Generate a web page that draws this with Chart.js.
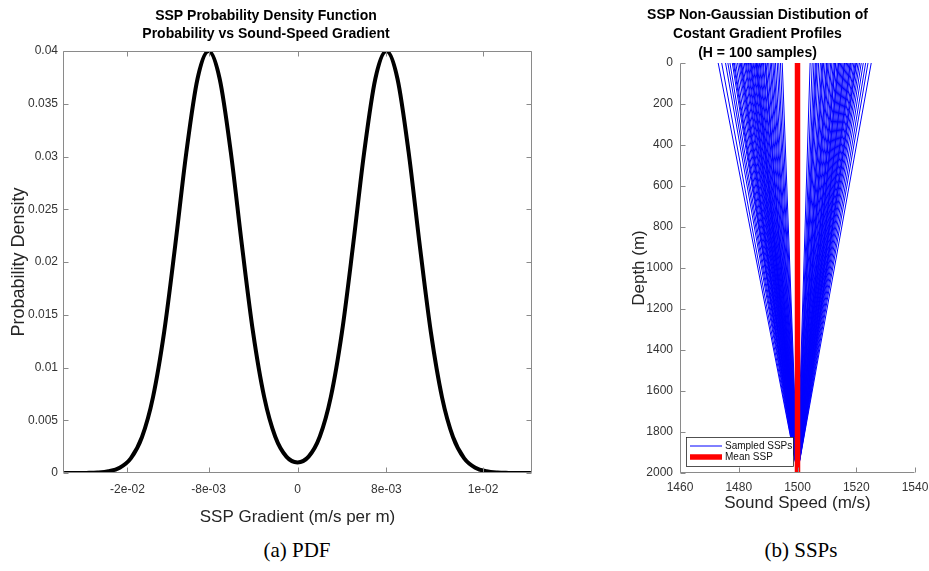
<!DOCTYPE html>
<html>
<head>
<meta charset="utf-8">
<title>SSP PDF and sampled profiles</title>
<script src="https://cdn.jsdelivr.net/npm/chart.js@4.4.0/dist/chart.umd.min.js"></script>
<style>
  html, body { margin: 0; padding: 0; background: #fff; }
  #page { position: relative; width: 929px; height: 571px; overflow: hidden; background: #fff; }
  #pdfWrap { position: absolute; left: 0; top: 0; width: 560px; height: 530px; }
  #sspWrap { position: absolute; left: 600px; top: 0; width: 329px; height: 530px; }
  .caption {
    position: absolute; top: 538px; transform: translateX(-50%);
    font-family: "Liberation Serif", "DejaVu Serif", serif; font-size: 21px; color: #000; white-space: nowrap;
  }
</style>
</head>
<body>
<div id="page">
  <div id="pdfWrap"><canvas id="pdfChart"></canvas></div>
  <div id="sspWrap"><canvas id="sspChart"></canvas></div>
  <div class="caption" style="left:297px">(a) PDF</div>
  <div class="caption" style="left:801px">(b) SSPs</div>
</div>

<script>
// ---- (a) PDF data ----
const gradValues = [
  -0.021, -0.020, -0.019, -0.018, -0.017, -0.016, -0.015, -0.014, -0.013, -0.012, -0.011,
  -0.010, -0.009, -0.008, -0.007, -0.006, -0.005, -0.004, -0.003, -0.002, -0.001,
  0,
  0.001, 0.002, 0.003, 0.004, 0.005, 0.006, 0.007, 0.008, 0.009, 0.010,
  0.011, 0.012, 0.013, 0.014, 0.015, 0.016, 0.017, 0.018, 0.019, 0.020, 0.021
];
const pdfValues = [
  0, 0, 0.00001, 0.00004, 0.00016, 0.0005, 0.00139, 0.00339, 0.0072, 0.01335, 0.02158,
  0.0304, 0.03735, 0.04, 0.03735, 0.0304, 0.02158, 0.01335, 0.00721, 0.00343, 0.00155,
  0.001,
  0.00155, 0.00343, 0.00721, 0.01335, 0.02158, 0.0304, 0.03735, 0.04, 0.03735, 0.0304,
  0.02158, 0.01335, 0.0072, 0.00339, 0.00139, 0.0005, 0.00016, 0.00004, 0.00001, 0, 0
];
const gradTickValues = [-0.0153, -0.008, 0, 0.008, 0.0167];
const gradTickLabels = ['-2e-02', '-8e-03', '0', '8e-03', '1e-02'];
const densityTicks = [0, 0.005, 0.01, 0.015, 0.02, 0.025, 0.03, 0.035, 0.04];

// ---- (b) sampled SSP data: surface speed of each profile, all meeting at the bottom ----
const sampleTopSpeeds = [
  1473.0, 1474.2, 1475.5, 1476.3, 1477.0, 1477.8, 1478.5, 1479.0, 1479.6, 1480.1,
  1480.5, 1481.0, 1481.4, 1481.9, 1482.3, 1482.6, 1483.0, 1483.3, 1483.7, 1484.0,
  1484.2, 1484.5, 1484.9, 1485.2, 1485.6, 1485.9, 1486.3, 1486.6, 1487.0, 1487.3,
  1487.7, 1488.1, 1488.4, 1488.9, 1489.3, 1489.8, 1490.2, 1490.7, 1491.1, 1491.6,
  1492.0, 1492.5, 1493.1, 1493.6, 1494.2, 1494.8, 1478.2, 1480.8, 1486.0, 1489.0,
  1504.3, 1505.0, 1505.6, 1506.1, 1506.7, 1507.2, 1507.8, 1508.3, 1508.9, 1509.4,
  1509.9, 1510.4, 1510.8, 1511.3, 1511.7, 1512.2, 1512.6, 1513.0, 1513.5, 1513.9,
  1514.3, 1514.7, 1515.1, 1515.5, 1515.9, 1516.3, 1516.7, 1517.1, 1517.5, 1517.9,
  1518.3, 1518.7, 1519.2, 1519.6, 1520.1, 1520.6, 1521.1, 1521.7, 1522.4, 1523.2,
  1524.0, 1525.1, 1506.4, 1510.1, 1512.9, 1516.0, 1518.0, 1519.9, 1508.6, 1514.0
];
const sampleBottomSpeed = 1500;
const profileDepths = [0, 2000];
const meanSpeeds = [1500, 1500];
const depthTicks = [0, 200, 400, 600, 800, 1000, 1200, 1400, 1600, 1800, 2000];
const speedTicks = [1460, 1480, 1500, 1520, 1540];

const FONT = '"Liberation Sans", Arial, Helvetica, sans-serif';
const TICK_COLOR = '#333333';
const AXIS_COLOR = '#8a8a8a';

Chart.defaults.font.family = FONT;
Chart.defaults.animation = false;

/**
 * MATLAB-style axes: axis lines with ticks pointing into the plot,
 * optionally a full box with mirrored ticks.
 */
const matlabAxes = {
  id: 'matlabAxes',
  afterDraw(chart, args, opts) {
    const { ctx, chartArea: a, scales } = chart;
    const L = Math.round(a.left) + 0.5;
    const R = Math.round(a.right) - 0.5;
    const T = Math.round(a.top) + 0.5;
    const B = Math.round(a.bottom) - 0.5;
    const len = opts.tickLength || 5;
    ctx.save();
    ctx.strokeStyle = AXIS_COLOR;
    ctx.lineWidth = 1;
    ctx.beginPath();
    ctx.moveTo(L, T);
    ctx.lineTo(L, B);
    ctx.lineTo(R, B);
    if (opts.box) {
      ctx.lineTo(R, T);
      ctx.lineTo(L, T);
    }
    scales.x.ticks.forEach(t => {
      const px = Math.round(scales.x.getPixelForValue(t.value)) + 0.5;
      ctx.moveTo(px, B);
      ctx.lineTo(px, B - len);
      if (opts.box) {
        ctx.moveTo(px, T);
        ctx.lineTo(px, T + len);
      }
    });
    scales.y.ticks.forEach(t => {
      const py = Math.round(scales.y.getPixelForValue(t.value)) + 0.5;
      ctx.moveTo(L, py);
      ctx.lineTo(L + len, py);
      if (opts.box) {
        ctx.moveTo(R, py);
        ctx.lineTo(R - len, py);
      }
    });
    ctx.stroke();
    ctx.restore();
  }
};

/**
 * Legend box drawn in the lower left corner of the plot area
 */
const cornerLegend = {
  id: 'cornerLegend',
  afterDraw(chart, args, opts) {
    const { ctx, chartArea: a } = chart;
    const items = chart.data.datasets
      .filter(ds => ds.label)
      .sort((p, q) => (p.legendRank || 0) - (q.legendRank || 0));
    const x = a.left + 6;
    const w = 107;
    const rowH = 11;
    const h = 29;
    const y = a.bottom - 36;
    ctx.save();
    ctx.fillStyle = '#fff';
    ctx.fillRect(x, y, w, h);
    ctx.strokeStyle = '#262626';
    ctx.lineWidth = 0.8;
    ctx.strokeRect(x + 0.5, y + 0.5, w, h);
    ctx.font = '10px ' + FONT;
    ctx.textBaseline = 'middle';
    items.forEach((ds, i) => {
      const cy = y + 9 + i * rowH;
      ctx.strokeStyle = ds.borderColor;
      ctx.lineWidth = ds.borderWidth;
      ctx.beginPath();
      ctx.moveTo(x + 4, cy);
      ctx.lineTo(x + 36, cy);
      ctx.stroke();
      ctx.fillStyle = '#111';
      ctx.fillText(ds.label, x + 39, cy + 0.5);
    });
    ctx.restore();
  }
};

function fixWidth(w) {
  return scale => { scale.width = w; scale.paddingTop = 0; scale.paddingBottom = 0; };
}
function fixHeight(h) {
  return scale => { scale.height = h; scale.paddingLeft = 0; scale.paddingRight = 0; };
}

// ---------------- (a) PDF ----------------
new Chart(document.getElementById('pdfChart'), {
  type: 'line',
  data: {
    datasets: [{
      data: gradValues.map((g, i) => ({ x: g, y: pdfValues[i] })),
      borderColor: '#000',
      borderWidth: 4,
      pointRadius: 0,
      cubicInterpolationMode: 'monotone',
      fill: false
    }]
  },
  options: {
    responsive: true,
    maintainAspectRatio: false,
    devicePixelRatio: 1,
    layout: { padding: { left: 0, right: 28, top: 0, bottom: 0 } },
    plugins: {
      legend: { display: false },
      tooltip: { enabled: false },
      title: {
        display: true,
        text: ['SSP Probability Density Function', 'Probability vs Sound-Speed Gradient'],
        color: '#000',
        font: { size: 14, weight: 'bold', lineHeight: 1.3 },
        padding: { top: 7, bottom: 7.6 }
      },
      matlabAxes: { box: true, tickLength: 5 }
    },
    scales: {
      x: {
        type: 'linear',
        min: -0.0211,
        max: 0.0211,
        afterBuildTicks: s => { s.ticks = gradTickValues.map(v => ({ value: v })); },
        afterFit: fixHeight(57),
        grid: { display: false, drawTicks: false },
        border: { display: false },
        ticks: {
          color: TICK_COLOR,
          font: { size: 12 },
          padding: 9,
          maxRotation: 0,
          autoSkip: false,
          callback: (v, i) => gradTickLabels[i]
        },
        title: {
          display: true,
          text: 'SSP Gradient (m/s per m)',
          color: '#262626',
          font: { size: 17 },
          padding: { top: 0, bottom: 2 }
        }
      },
      y: {
        type: 'linear',
        min: 0,
        max: 0.04,
        afterBuildTicks: s => { s.ticks = densityTicks.map(v => ({ value: v })); },
        afterFit: fixWidth(63),
        grid: { display: false, drawTicks: false },
        border: { display: false },
        ticks: {
          color: TICK_COLOR,
          font: { size: 12 },
          padding: 5,
          callback: v => String(+v.toFixed(3))
        },
        title: {
          display: true,
          text: 'Probability Density',
          color: '#262626',
          font: { size: 18 },
          padding: { top: 8, bottom: 0 }
        }
      }
    }
  },
  plugins: [matlabAxes]
});

// ---------------- (b) SSPs ----------------
const sspDatasets = sampleTopSpeeds.map((c0, i) => ({
  label: i === 0 ? 'Sampled SSPs' : undefined,
  legendRank: 0,
  data: [
    { x: c0, y: profileDepths[0] },
    { x: sampleBottomSpeed, y: profileDepths[1] }
  ],
  borderColor: '#0000ff',
  borderWidth: 1,
  pointRadius: 0,
  fill: false,
  order: 2
}));
sspDatasets.push({
  label: 'Mean SSP',
  legendRank: 1,
  data: profileDepths.map((d, i) => ({ x: meanSpeeds[i], y: d })),
  borderColor: '#ff0000',
  borderWidth: 5.5,
  pointRadius: 0,
  fill: false,
  order: 1
});

new Chart(document.getElementById('sspChart'), {
  type: 'line',
  data: { datasets: sspDatasets },
  options: {
    responsive: true,
    maintainAspectRatio: false,
    devicePixelRatio: 1,
    layout: { padding: { left: 0, right: 14, top: 0, bottom: 0 } },
    plugins: {
      legend: { display: false },
      tooltip: { enabled: false },
      title: {
        display: true,
        text: ['SSP Non-Gaussian Distibution of', 'Costant Gradient Profiles', '(H = 100 samples)'],
        color: '#000',
        font: { size: 14, weight: 'bold', lineHeight: 1.35 },
        padding: { top: 6, bottom: 0.3 }
      },
      matlabAxes: { box: false, tickLength: 5 }
    },
    scales: {
      x: {
        type: 'linear',
        min: 1460,
        max: 1540,
        afterBuildTicks: s => { s.ticks = speedTicks.map(v => ({ value: v })); },
        afterFit: fixHeight(57),
        grid: { display: false, drawTicks: false },
        border: { display: false },
        ticks: {
          color: TICK_COLOR,
          font: { size: 12 },
          padding: 7,
          maxRotation: 0,
          autoSkip: false,
          callback: v => String(v)
        },
        title: {
          display: true,
          text: 'Sound Speed (m/s)',
          color: '#262626',
          font: { size: 17 },
          padding: { top: 0, bottom: 16 }
        }
      },
      y: {
        type: 'linear',
        reverse: true,
        min: 0,
        max: 2000,
        afterBuildTicks: s => { s.ticks = depthTicks.map(v => ({ value: v })); },
        afterFit: fixWidth(80),
        grid: { display: false, drawTicks: false },
        border: { display: false },
        ticks: {
          color: TICK_COLOR,
          font: { size: 12 },
          padding: 7,
          callback: v => String(v)
        },
        title: {
          display: true,
          text: 'Depth (m)',
          color: '#262626',
          font: { size: 17 },
          padding: { top: 29, bottom: 0 }
        }
      }
    }
  },
  plugins: [matlabAxes, cornerLegend]
});
</script>
</body>
</html>
